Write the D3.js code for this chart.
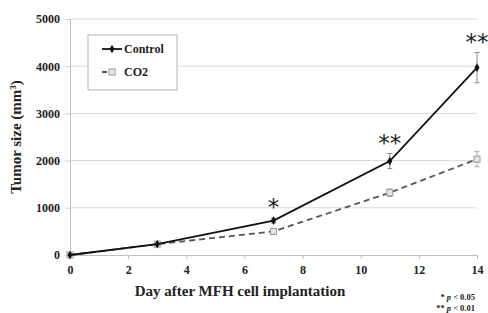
<!DOCTYPE html>
<html>
<head>
<meta charset="utf-8">
<script src="https://cdn.jsdelivr.net/npm/d3@7"></script>
<style>
  body { margin: 0; background: #fff; }
  svg { display: block; font-family: "Liberation Serif", "Times New Roman", serif; }
</style>
</head>
<body>
<svg width="488" height="313"></svg>
<script>
// Data
const days = [0, 3, 7, 11, 14];
const controlMean = [0, 230, 730, 1990, 3970];
const controlErr = [20, 30, 50, 160, 320];
const co2Mean = [0, 230, 500, 1320, 2030];
const co2Err = [20, 30, 40, 80, 160];
const xTicks = [0, 2, 4, 6, 8, 10, 12, 14];
const yTicks = [0, 1000, 2000, 3000, 4000, 5000];
const marks = [
    { day: 7, value: 730, err: 50, text: "*" },
    { day: 11, value: 1990, err: 160, text: "**" },
    { day: 14, value: 3970, err: 320, text: "**" }
];

const svg = d3.select("svg");

const x = d3.scaleLinear().domain([0, 14]).range([70, 477]);
const y = d3.scaleLinear().domain([0, 5000]).range([255, 19]);

// gridlines
svg.append("g")
    .selectAll("line")
    .data(yTicks.filter(d => d > 0))
    .enter().append("line")
    .attr("x1", x(0)).attr("x2", x(14))
    .attr("y1", d => y(d)).attr("y2", d => y(d))
    .attr("stroke", "#d9d9d9").attr("stroke-width", 1);

// y axis
const yAxis = svg.append("g")
    .attr("transform", `translate(${x(0)},0)`)
    .call(d3.axisLeft(y).tickValues(yTicks).tickFormat(d3.format("d")).tickSize(5).tickPadding(5));
yAxis.select(".domain").attr("stroke", "#bfbfbf");
yAxis.selectAll(".tick line").attr("stroke", "#d0d0d0");
yAxis.selectAll("text")
    .style("font-family", "Liberation Serif, serif")
    .style("font-weight", "bold")
    .style("font-size", "12px")
    .attr("fill", "#222");

// x axis
const xAxis = svg.append("g")
    .attr("transform", `translate(0,${y(0)})`)
    .call(d3.axisBottom(x).tickValues(xTicks).tickSize(4).tickPadding(6));
xAxis.select(".domain").attr("stroke", "#bfbfbf");
xAxis.selectAll(".tick line").attr("stroke", "#bfbfbf");
xAxis.selectAll("text")
    .style("font-family", "Liberation Serif, serif")
    .style("font-weight", "bold")
    .style("font-size", "12px")
    .attr("fill", "#222");

// error bars
function errorBars(mean, err, color) {
    const g = svg.append("g").attr("stroke", color).attr("stroke-width", 1);
    days.forEach((d, i) => {
        if (i === 0) return;
        g.append("line")
            .attr("x1", x(d)).attr("x2", x(d))
            .attr("y1", y(mean[i] + err[i])).attr("y2", y(mean[i] - err[i]));
        [mean[i] + err[i], mean[i] - err[i]].forEach(v => {
            g.append("line")
                .attr("x1", x(d) - 2.5).attr("x2", x(d) + 2.5)
                .attr("y1", y(v)).attr("y2", y(v));
        });
    });
}
errorBars(co2Mean, co2Err, "#aaa");
errorBars(controlMean, controlErr, "#888");

const line = d3.line().x((d, i) => x(days[i])).y(d => y(d));

// CO2 series
svg.append("path")
    .datum(co2Mean)
    .attr("fill", "none")
    .attr("stroke", "#555")
    .attr("stroke-width", 1.8)
    .attr("stroke-dasharray", "6,4")
    .attr("d", line);

svg.append("g")
    .selectAll("rect")
    .data(co2Mean)
    .enter().append("rect")
    .attr("x", (d, i) => x(days[i]) - 3)
    .attr("y", d => y(d) - 3)
    .attr("width", 6).attr("height", 6)
    .attr("fill", "#e6e6e6")
    .attr("stroke", "#9a9a9a")
    .attr("stroke-width", 1);

// Control series
svg.append("path")
    .datum(controlMean)
    .attr("fill", "none")
    .attr("stroke", "#111")
    .attr("stroke-width", 1.8)
    .attr("d", line);

svg.append("g")
    .selectAll("path")
    .data(controlMean)
    .enter().append("path")
    .attr("d", d3.symbol(d3.symbolDiamond, 22))
    .attr("transform", (d, i) => `translate(${x(days[i])},${y(d)})`)
    .attr("fill", "#111");

// significance marks
svg.append("g")
    .selectAll("text")
    .data(marks)
    .enter().append("text")
    .attr("x", d => x(d.day))
    .attr("y", d => y(d.value + d.err) + 18)
    .attr("dy", "-0.9em")
    .attr("text-anchor", "middle")
    .style("font-family", "DejaVu Sans, sans-serif")
    .style("font-size", "23px")
    .attr("fill", "#222")
    .text(d => d.text);

// legend
const legend = svg.append("g").attr("transform", "translate(88,35)");
legend.append("rect")
    .attr("width", 89).attr("height", 55)
    .attr("fill", "#fff")
    .attr("stroke", "#b3b3b3");
legend.append("line")
    .attr("x1", 14).attr("x2", 34).attr("y1", 14).attr("y2", 14)
    .attr("stroke", "#111").attr("stroke-width", 1.8);
legend.append("path")
    .attr("d", d3.symbol(d3.symbolDiamond, 22))
    .attr("transform", "translate(24,14)")
    .attr("fill", "#111");
legend.append("text")
    .attr("x", 36).attr("y", 18)
    .style("font-weight", "bold").style("font-size", "12px")
    .attr("fill", "#222")
    .text("Control");
legend.append("line")
    .attr("x1", 14).attr("x2", 30).attr("y1", 37).attr("y2", 37)
    .attr("stroke", "#555").attr("stroke-width", 1.8)
    .attr("stroke-dasharray", "5,3");
legend.append("rect")
    .attr("x", 21).attr("y", 34).attr("width", 6).attr("height", 6)
    .attr("fill", "#e6e6e6").attr("stroke", "#9a9a9a");
legend.append("text")
    .attr("x", 36).attr("y", 41)
    .style("font-weight", "bold").style("font-size", "12px")
    .attr("fill", "#222")
    .text("CO2");

// axis titles
const yTitle = svg.append("text")
    .attr("transform", "translate(21,137) rotate(-90)")
    .attr("text-anchor", "middle")
    .style("font-weight", "bold").style("font-size", "15px")
    .attr("fill", "#222");
yTitle.append("tspan").text("Tumor size (mm");
yTitle.append("tspan").attr("dy", "-5").style("font-size", "9px").text("3");
yTitle.append("tspan").attr("dy", "5").text(")");

svg.append("text")
    .attr("x", 240).attr("y", 296)
    .attr("text-anchor", "middle")
    .style("font-weight", "bold").style("font-size", "15px")
    .attr("fill", "#222")
    .text("Day after MFH cell implantation");

// footnote
const foot = svg.append("g")
    .style("font-weight", "bold").style("font-size", "8.5px")
    .attr("fill", "#222");
const f1 = foot.append("text").attr("x", 475).attr("y", 300).attr("text-anchor", "end");
f1.append("tspan").text("* ");
f1.append("tspan").style("font-style", "italic").text("p");
f1.append("tspan").text(" < 0.05");
const f2 = foot.append("text").attr("x", 475).attr("y", 311).attr("text-anchor", "end");
f2.append("tspan").text("** ");
f2.append("tspan").style("font-style", "italic").text("p");
f2.append("tspan").text(" < 0.01");
</script>
</body>
</html>
